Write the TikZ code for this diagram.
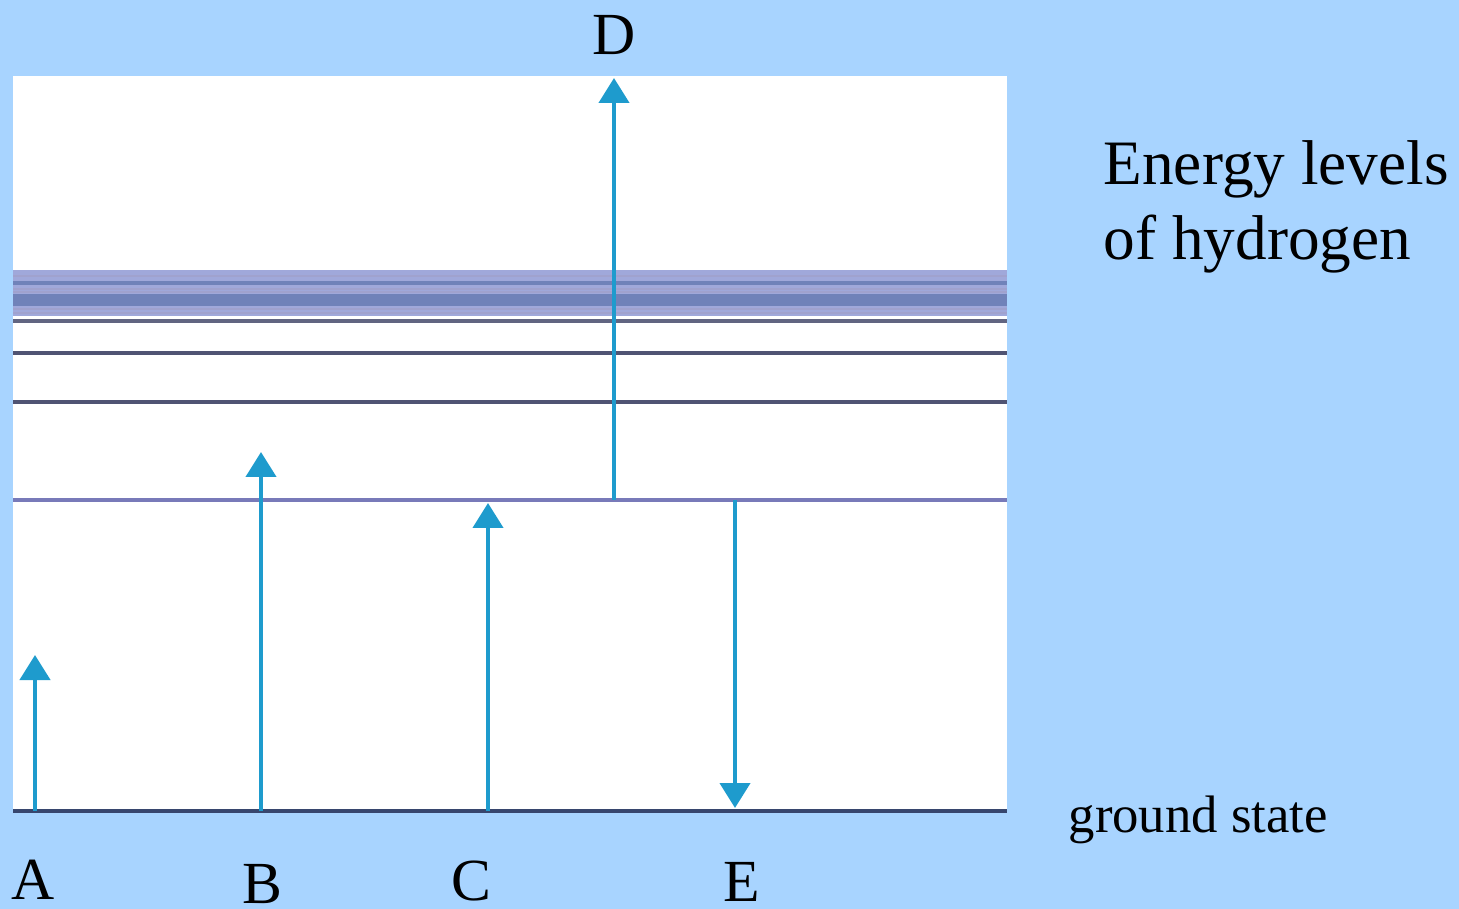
\documentclass[tikz,border=0pt]{standalone}
\usepackage{fontspec}
\setmainfont{Liberation Serif}
\usepackage{xcolor}
\usepackage{tikz}
\usetikzlibrary{arrows.meta, positioning}
\definecolor{skyback}{RGB}{168,212,255}
\definecolor{jumpblue}{RGB}{30,155,205}
\definecolor{groundnavy}{RGB}{55,70,110}
\definecolor{levelviolet}{RGB}{120,122,185}
\definecolor{levelgray}{RGB}{80,84,115}
\definecolor{bandviolet}{RGB}{160,168,218}
\definecolor{banddark}{RGB}{112,130,185}
\tikzset{
  jump/.style={draw=jumpblue, line width=1.2pt, -{Triangle[length=2.5mm,width=3mm]}},
  levelline/.style={line width=1pt},
  letter/.style={font=\fontsize{17}{20}\selectfont},
}
\begin{document}
\begin{tikzpicture}[x=0.1mm, y=-0.1mm]
  \fill[skyback] (0,0) rectangle (1459,909);
  \useasboundingbox (0,0) rectangle (1459,909);
  \fill[white] (13,76) rectangle (1007,811);
  % crowded upper levels
  \fill[bandviolet] (13,270) rectangle (1007,316);
  \foreach \yy in {283,296,300,304} {
    \draw[banddark, line width=1pt] (13,\yy) -- (1007,\yy);
  }
  \foreach \yy in {276,289,292,309,313} {
    \draw[levelviolet!70, line width=0.5pt] (13,\yy) -- (1007,\yy);
  }
  % energy levels
  \draw[levelline, draw=levelgray!90] (13,321) -- (1007,321);
  \draw[levelline, draw=levelgray] (13,353) -- (1007,353);
  \draw[levelline, draw=levelgray] (13,402) -- (1007,402);
  \draw[levelline, draw=levelviolet] (13,500) -- (1007,500);
  \draw[levelline, draw=groundnavy] (13,811) -- (1007,811);
  % transitions
  \coordinate (A0) at (35,811);  \coordinate (A1) at (35,655);
  \coordinate (B0) at (261,811); \coordinate (B1) at (261,452);
  \coordinate (C0) at (488,811); \coordinate (C1) at (488,503);
  \coordinate (D0) at (614,500); \coordinate (D1) at (614,78);
  \coordinate (E0) at (735,500); \coordinate (E1) at (735,808);
  \draw[jump] (A0) -- (A1);
  \draw[jump] (B0) -- (B1);
  \draw[jump] (C0) -- (C1);
  \draw[jump] (D0) -- (D1);
  \draw[jump] (E0) -- (E1);
  % labels
  \node[letter] (labA) at (33,880) {A};
  \node[letter] (labB) at (262,884) {B};
  \node[letter] (labC) at (471,881) {C};
  \node[letter] (labD) at (614,35) {D};
  \node[letter] (labE) at (742,882) {E};
  \node[font=\fontsize{15}{18}\selectfont, anchor=base west, inner sep=0pt] (ground) at (1068,832) {ground state};
  \node[font=\fontsize{18}{21.3}\selectfont, anchor=north west, align=left, inner sep=0pt] (title) at (1103,140) {Energy levels\\of hydrogen};
\end{tikzpicture}
\end{document}
